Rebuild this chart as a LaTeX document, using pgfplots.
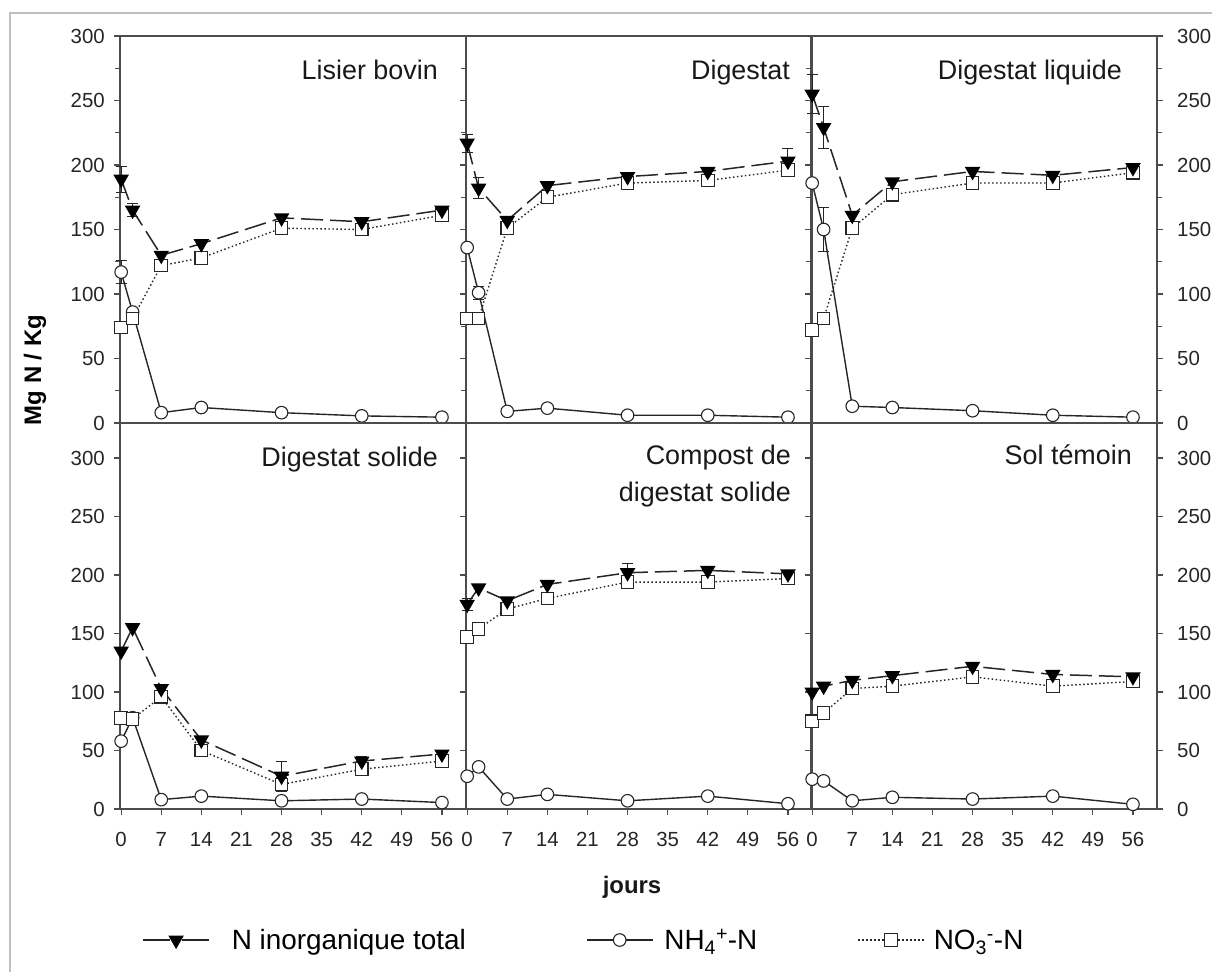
\documentclass[border=0pt]{standalone}
\usepackage{fontspec}
\setmainfont{Liberation Sans}
\usepackage{pgfplots}
\pgfplotsset{compat=1.18}
\definecolor{ax}{gray}{0.3}
\definecolor{ln}{gray}{0.15}
\pgfplotsset{
  panel/.style={
    scale only axis, width=346bp,
    xmin=-0.2, xmax=60.2,
    axis line style={ax, line width=1.3bp},
    tick style={ax, line width=1.2bp},
    tick align=outside,
    major tick length=6bp, minor tick length=5bp,
    ticklabel style={font=\fontsize{20.5}{22}\selectfont, text=black!85, inner sep=9bp},
    xticklabel style={yshift=-8bp},
    /pgf/number format/assume math mode=true,
    clip=false,
  },
  toprow/.style={height=387bp, ymin=0, ymax=300, ytick={0,50,...,300}, minor ytick={25,75,...,275}, xtick=\empty},
  botrow/.style={height=386bp, ymin=0, ymax=330, ytick={0,50,...,300}, xtick={0,7,...,56}, xtick pos=bottom},
  col1/.style={ytick pos=left},
  col2/.style={ytick pos=left, yticklabels={}},
  col3/.style={ytick pos=both, yticklabel pos=right, yticklabel style={xshift=5bp}},
  tot/.style={ln, line width=1.5bp, dash pattern=on 22bp off 7bp, mark=triangle*, mark size=7.5bp,
    mark options={solid, fill=black, draw=black, rotate=180}},
  amm/.style={ln, line width=1.4bp, solid, mark=*, mark size=6.3bp,
    mark options={solid, fill=white, draw=ln, line width=1.1bp}},
  nit/.style={ln, line width=1.4bp, dash pattern=on 1.5bp off 2.5bp, mark=square*, mark size=6.3bp,
    mark options={solid, fill=white, draw=ln, line width=1.1bp}},
  eb/.style={only marks, mark=*, mark size=0.2bp, mark options={draw=none, fill=none}, forget plot,
    error bars/.cd, y dir=both, y explicit, error mark=|,
    error bar style={draw=ln, solid, line width=1bp},
    error mark options={draw=ln, solid, mark size=5.5bp, line width=1bp}},
}
\begin{document}
\begin{tikzpicture}[x=1bp, y=1bp]
\useasboundingbox (0,0) rectangle (1212,972);
\draw[black!25, line width=2bp] (10,0) -- (10,959) -- (1212,959);

% ---------- Lisier bovin
\begin{axis}[panel, toprow, col1, at={(120bp,549bp)}, anchor=south west,
  legend style={at={(axis description cs:0.064,-1.336)}, anchor=west, legend columns=3,
    draw=none, fill=none, font=\fontsize{28}{30}\selectfont, inner sep=0pt,
    /tikz/column 1/.style={column sep=20bp},
    /tikz/column 2/.style={column sep=118bp},
    /tikz/column 3/.style={column sep=9bp},
    /tikz/column 4/.style={column sep=98bp},
    /tikz/column 5/.style={column sep=7bp}},
  legend image code/.code={\draw[mark repeat=2, mark phase=2, #1] plot coordinates {(0bp,0bp) (33bp,0bp) (66bp,0bp)};},
  ]
\addplot[eb] coordinates {(0,189) +- (0,10) (2,165) +- (0,5) (0,117) +- (0,9) (56,165) +- (0,3)};
\addplot[amm, forget plot] coordinates {(0,117) (2,86) (7,8) (14,12) (28,8) (42,5.5) (56,4.5)};
\addplot[nit, forget plot] coordinates {(0,74) (2,81) (7,122) (14,128) (28,151) (42,150) (56,161)};
\addplot[tot, forget plot] coordinates {(0,189) (2,165) (7,130) (14,139) (28,159) (42,156) (56,165)};
\addlegendimage{tot, dash pattern=on 27bp off 12bp}\addlegendentry{N inorganique total}
\addlegendimage{amm}\addlegendentry{NH\textsubscript{4}\textsuperscript{+}-N}
\addlegendimage{nit}\addlegendentry{NO\textsubscript{3}\textsuperscript{-}-N}
\end{axis}

% ---------- Digestat
\begin{axis}[panel, toprow, col2, at={(466bp,549bp)}, anchor=south west]
\addplot[eb] coordinates {(0,217) +- (0,7) (2,182) +- (0,8) (56,203) +- (0,10) (2,101) +- (0,5)};
\addplot[amm] coordinates {(0,136) (2,101) (7,9) (14,11.5) (28,6) (42,6) (56,4.5)};
\addplot[nit] coordinates {(0,81) (2,81) (7,151) (14,175) (28,186) (42,188) (56,196)};
\addplot[tot] coordinates {(0,217) (2,182) (7,157) (14,184) (28,191) (42,195) (56,203)};
\end{axis}

% ---------- Digestat liquide
\begin{axis}[panel, toprow, col3, at={(811bp,549bp)}, anchor=south west]
\addplot[eb] coordinates {(0,255) +- (0,15) (2,229) +- (0,16) (2,150) +- (0,17) (42,192) +- (0,3)};
\addplot[amm] coordinates {(0,186) (2,150) (7,13) (14,12) (28,9.5) (42,6) (56,4.5)};
\addplot[nit] coordinates {(0,72) (2,81) (7,151) (14,177) (28,186) (42,186) (56,194)};
\addplot[tot] coordinates {(0,255) (2,229) (7,161) (14,187) (28,195) (42,192) (56,198)};
\end{axis}

% ---------- Digestat solide
\begin{axis}[panel, botrow, col1, at={(120bp,163bp)}, anchor=south west]
\addplot[eb] coordinates {(28,28) +- (0,13) (42,41) +- (0,4) (28,21) +- (0,6) (42,34) +- (0,4)};
\addplot[amm] coordinates {(0,58) (2,78) (7,8) (14,11) (28,7) (42,8.5) (56,5.5)};
\addplot[nit] coordinates {(0,78) (2,77) (7,96) (14,50) (28,21) (42,34) (56,41)};
\addplot[tot] coordinates {(0,135) (2,155) (7,103) (14,59) (28,28) (42,41) (56,47)};
\end{axis}

% ---------- Compost de digestat solide
\begin{axis}[panel, botrow, col2, at={(466bp,163bp)}, anchor=south west]
\addplot[eb] coordinates {(0,175) +- (0,5) (28,202) +- (0,8) (28,194) +- (0,5)};
\addplot[amm] coordinates {(0,28) (2,36) (7,8.5) (14,12.5) (28,7) (42,11) (56,4.5)};
\addplot[nit] coordinates {(0,147) (2,154) (7,171) (14,180) (28,194) (42,194) (56,197)};
\addplot[tot] coordinates {(0,175) (2,189) (7,178) (14,192) (28,202) (42,204) (56,201)};
\end{axis}

% ---------- Sol temoin
\begin{axis}[panel, botrow, col3, at={(811bp,163bp)}, anchor=south west]
\addplot[amm] coordinates {(0,25.5) (2,24) (7,7) (14,10) (28,8.5) (42,11) (56,4)};
\addplot[nit] coordinates {(0,75) (2,82) (7,103) (14,105) (28,113) (42,105) (56,109)};
\addplot[tot] coordinates {(0,100) (2,105) (7,110) (14,114) (28,122) (42,115) (56,113)};
\end{axis}

% ---------- titles and labels
\begin{scope}[every node/.style={font=\fontsize{27}{31}\selectfont, text=black!90, inner sep=0pt}]
\node[anchor=base east] at (438,892) {Lisier bovin};
\node[anchor=base east] at (790,892) {Digestat};
\node[anchor=base east] at (1122,892) {Digestat liquide};
\node[anchor=base east] at (438,505) {Digestat solide};
\node[anchor=base east] at (791,507) {Compost de};
\node[anchor=base east] at (791,470) {digestat solide};
\node[anchor=base east] at (1132,507) {Sol témoin};
\end{scope}
\node[rotate=90, font=\bfseries\fontsize{24}{26}\selectfont, text=black] at (35,602) {Mg N / Kg};
\node[font=\bfseries\fontsize{24}{26}\selectfont, text=black!90] at (632,85) {jours};
\end{tikzpicture}
\end{document}
